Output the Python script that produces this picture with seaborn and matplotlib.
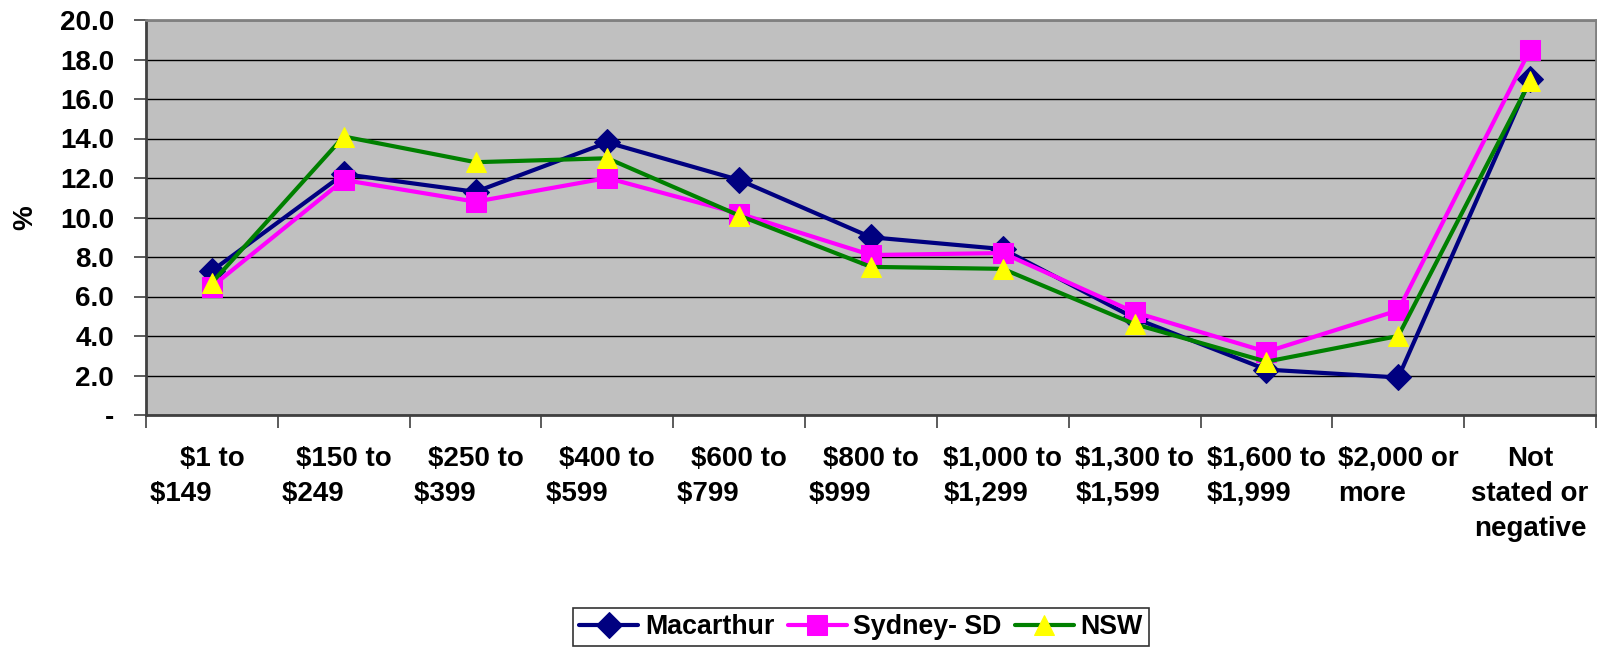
import matplotlib
matplotlib.use("Agg")
import matplotlib.pyplot as plt
import seaborn as sns
import numpy as np
import pandas as pd
from matplotlib.ticker import FixedLocator, FuncFormatter

categories = ["$1 to $149", "$150 to $249", "$250 to $399", "$400 to $599",
              "$600 to $799", "$800 to $999", "$1,000 to $1,299", "$1,300 to $1,599",
              "$1,600 to $1,999", "$2,000 or more", "Not stated or negative"]
tick_labels = ["$1 to\n$149", "$150 to\n$249", "$250 to\n$399", "$400 to\n$599",
               "$600 to\n$799", "$800 to\n$999", "$1,000 to\n$1,299", "$1,300 to\n$1,599",
               "$1,600 to\n$1,999", "$2,000 or\nmore", "Not\nstated or\nnegative"]
macarthur = [7.3, 12.2, 11.3, 13.8, 11.9, 9.0, 8.4, 4.9, 2.3, 1.9, 17.0]
sydney_sd = [6.5, 11.9, 10.8, 12.0, 10.2, 8.1, 8.2, 5.2, 3.2, 5.3, 18.5]
nsw = [6.7, 14.1, 12.8, 13.0, 10.1, 7.5, 7.4, 4.6, 2.7, 4.0, 16.9]
y_ticks = [0, 2, 4, 6, 8, 10, 12, 14, 16, 18, 20]

FS = 20

sns.set_theme(style="white")
plt.rcParams['font.family'] = ['Liberation Sans', 'DejaVu Sans']
plt.rcParams['font.weight'] = 'bold'
for k in ['text.color', 'axes.labelcolor', 'xtick.labelcolor', 'ytick.labelcolor']:
    plt.rcParams[k] = 'black'

fig = plt.figure(figsize=(15.97, 6.49), dpi=100)
ax = fig.add_axes([146/1597, 1-415/649, 1450/1597, 395/649])
ax.set_facecolor("#C0C0C0")

x = np.arange(len(categories))
series = [
    ("Macarthur", macarthur, dict(color="#000080", marker="D", markersize=13,
                                   markerfacecolor="#000080", markeredgecolor="#000080")),
    ("Sydney- SD", sydney_sd, dict(color="#FF00FF", marker="s", markersize=14,
                                    markerfacecolor="#FF00FF", markeredgecolor="#FF00FF")),
    ("NSW", nsw, dict(color="#008000", marker="^", markersize=15,
                      markerfacecolor="#FFFF00", markeredgecolor="#FFFF00")),
]
for name, vals, kw in series:
    df = pd.DataFrame({"x": x, "y": vals})
    sns.lineplot(data=df, x="x", y="y", ax=ax, label=name, linewidth=3,
                 sort=False, **kw)

ax.set_xlim(-0.5, len(categories) - 0.5)
ax.set_ylim(0, 20)
ax.set_yticks(y_ticks)
ax.yaxis.set_major_formatter(FuncFormatter(lambda v, p: "-" if v == 0 else f"{v:.1f}"))
ax.grid(axis="y", color="black", linewidth=1)
ax.grid(axis="x", visible=False)

# Excel-style wrapping: short second lines sit left of the centred first line
shown_labels = []
aligns = []
for i, lab in enumerate(tick_labels):
    if i < 6:
        first, second = lab.split("\n")
        shown_labels.append(first + "\n" + second + " " * 8)
        aligns.append("center")
    elif i == len(tick_labels) - 1:
        shown_labels.append(lab)
        aligns.append("center")
    else:
        shown_labels.append(lab)
        aligns.append("left")

ax.set_xticks(x)
ax.set_xticklabels(shown_labels, linespacing=1.45)
for t, a in zip(ax.get_xticklabels(), aligns):
    t.set_multialignment(a)
ax.xaxis.set_minor_locator(FixedLocator(np.arange(-0.5, len(categories), 1.0)))
ax.tick_params(axis="x", which="major", length=0, pad=22, labelsize=FS)
ax.tick_params(axis="x", which="minor", length=9, width=1.2, color="#404040", direction="out", bottom=True)
ax.tick_params(axis="y", which="major", length=9, width=1.2, color="#404040", direction="out",
               left=True, pad=14, labelsize=FS)

for s in ["top", "right"]:
    ax.spines[s].set_color("#808080")
    ax.spines[s].set_linewidth(2)
for s in ["left", "bottom"]:
    ax.spines[s].set_color("#404040")
    ax.spines[s].set_linewidth(2)

ax.set_xlabel("")
ax.set_ylabel("%", fontsize=FS, fontweight="bold")
ax.yaxis.set_label_coords((38 - 146) / 1450, 0.5)

handles, labels = ax.get_legend_handles_labels()
ax.get_legend().remove()
leg = fig.legend(handles, labels, loc="center", bbox_to_anchor=(861/1597, 1 - 627/649),
                 ncol=3, fontsize=19.3, frameon=True, fancybox=False, edgecolor="black",
                 handlelength=2.2, handletextpad=0.25, columnspacing=0.5, borderpad=0.22,
                 borderaxespad=0)
leg.get_frame().set_linewidth(1.2)
for t in leg.get_texts():
    t.set_fontweight("bold")

fig.savefig("out.png", dpi=100)
